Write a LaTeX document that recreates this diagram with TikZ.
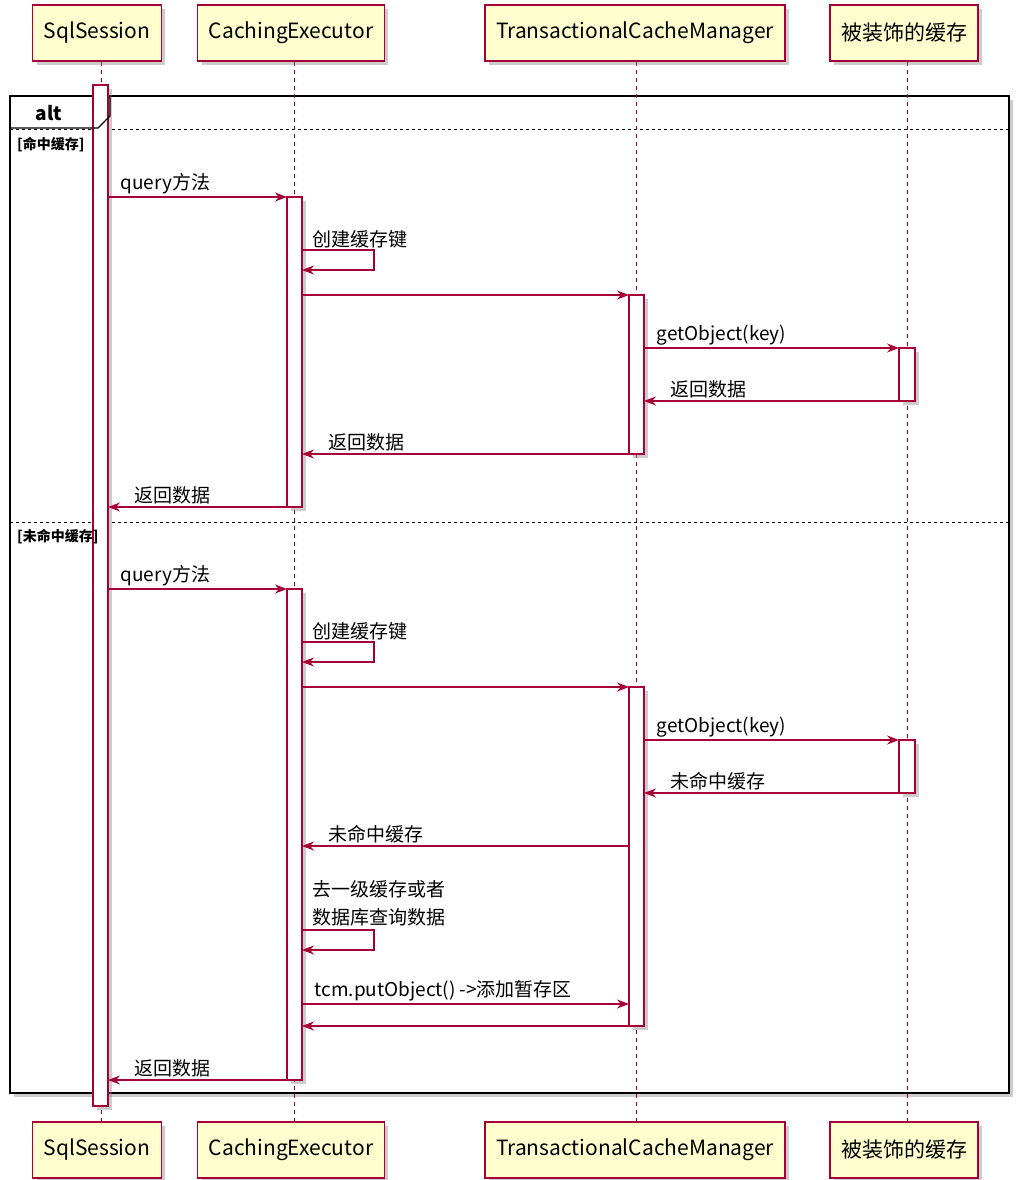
\documentclass[tikz,border=0pt]{standalone}
\usepackage{fontspec}
\setmainfont{Noto Sans CJK SC}
\usetikzlibrary{shadows,arrows.meta}
\definecolor{umlred}{HTML}{A80036}
\definecolor{umlfill}{HTML}{FEFECE}
\tikzset{
  part/.style={draw=umlred,fill=umlfill,line width=1.2pt,minimum height=56pt,inner xsep=11pt,
    font=\fontsize{21}{23}\selectfont,drop shadow={shadow xshift=4pt,shadow yshift=-4pt,opacity=0.4}},
  life/.style={umlred,line width=1pt,dash pattern=on 4pt off 4pt},
  act/.style={draw=umlred,fill=white,line width=1.2pt,drop shadow={shadow xshift=4pt,shadow yshift=-4pt,opacity=0.4}},
  msg/.style={umlred,line width=1.2pt,-{Stealth[length=12pt,width=9pt]}},
  lbl/.style={text=black,font=\fontsize{19}{28}\selectfont,anchor=south west,inner sep=2pt},
  guard/.style={font=\bfseries\fontsize{14}{15}\selectfont,anchor=west,inner sep=0pt},
}
\begin{document}
\begin{tikzpicture}[x=1pt,y=-1pt]
  \useasboundingbox (0,0) rectangle (1020,1180);
  % alt frame
  \draw[line width=2.6pt,fill=white,drop shadow={shadow xshift=4pt,shadow yshift=-4pt,opacity=0.4}] (10,96) rectangle (1009,1093);
  \draw[dash pattern=on 3pt off 3pt,line width=1pt] (10,130) -- (1009,130);
  \draw[dash pattern=on 3pt off 3pt,line width=1pt] (10,522) -- (1009,522);
  % lifelines
  \foreach \x in {101,294,636,907} \draw[life] (\x,62) -- (\x,1122);
  % participants
  \foreach \n/\x/\t in {sql/97/SqlSession,ce/291/CachingExecutor,tcm/635/TransactionalCacheManager,dec/904/被装饰的缓存}{
    \node[part] (\n top) at (\x,33) {\t};
    \node[part] (\n bot) at (\x,1150) {\t};
  }
  % activations
  \draw[act] (93,85) rectangle (108,1106);
  \draw[act] (287,197) rectangle (302,507);
  \draw[act] (287,589) rectangle (302,1080);
  \draw[act] (629,295) rectangle (644,454);
  \draw[act] (629,687) rectangle (644,1026);
  \draw[act] (899,348) rectangle (915,401);
  \draw[act] (899,740) rectangle (915,793);
  % tab and guards
  \draw[line width=1.2pt] (10,128) -- (98,128) -- (110,116) -- (110,96);
  \node[font=\bfseries\fontsize{19}{20}\selectfont] (alt) at (49,113) {alt};
  \node[guard] (g1) at (17,145) {[命中缓存]};
  \node[guard] (g2) at (17,537) {[未命中缓存]};
  % hit
  \coordinate (a1) at (108,197); \coordinate (b1) at (287,197);
  \draw[msg] (a1) -- (b1) node[lbl] at (a1) {\hspace{10pt}query方法};
  \draw[msg] (302,250) -- (374,250) -- (374,270) -- (302,270);
  \node[lbl] (s1) at (310,250) {创建缓存键};
  \coordinate (a2) at (302,295); \coordinate (b2) at (629,295);
  \draw[msg] (a2) -- (b2);
  \coordinate (a3) at (644,348); \coordinate (b3) at (899,348);
  \draw[msg] (a3) -- (b3) node[lbl] at (a3) {\hspace{10pt}getObject(key)};
  \coordinate (a4) at (899,401); \coordinate (b4) at (644,401);
  \draw[msg] (a4) -- (b4) node[lbl] at (b4) {\hspace{24pt}返回数据};
  \coordinate (a5) at (629,454); \coordinate (b5) at (302,454);
  \draw[msg] (a5) -- (b5) node[lbl] at (b5) {\hspace{24pt}返回数据};
  \coordinate (a6) at (287,507); \coordinate (b6) at (108,507);
  \draw[msg] (a6) -- (b6) node[lbl] at (b6) {\hspace{24pt}返回数据};
  % miss
  \coordinate (c1) at (108,589); \coordinate (d1) at (287,589);
  \draw[msg] (c1) -- (d1) node[lbl] at (c1) {\hspace{10pt}query方法};
  \draw[msg] (302,642) -- (374,642) -- (374,662) -- (302,662);
  \node[lbl] (s2) at (310,642) {创建缓存键};
  \coordinate (c2) at (302,687); \coordinate (d2) at (629,687);
  \draw[msg] (c2) -- (d2);
  \coordinate (c3) at (644,740); \coordinate (d3) at (899,740);
  \draw[msg] (c3) -- (d3) node[lbl] at (c3) {\hspace{10pt}getObject(key)};
  \coordinate (c4) at (899,793); \coordinate (d4) at (644,793);
  \draw[msg] (c4) -- (d4) node[lbl] at (d4) {\hspace{24pt}未命中缓存};
  \coordinate (c5) at (629,846); \coordinate (d5) at (302,846);
  \draw[msg] (c5) -- (d5) node[lbl] at (d5) {\hspace{24pt}未命中缓存};
  \draw[msg] (302,930) -- (374,930) -- (374,950) -- (302,950);
  \node[lbl,align=left] (s3) at (310,928) {去一级缓存或者\\数据库查询数据};
  \coordinate (c6) at (302,1004); \coordinate (d6) at (629,1004);
  \draw[msg] (c6) -- (d6) node[lbl] at (c6) {\hspace{10pt}tcm.putObject() ->添加暂存区};
  \coordinate (c7) at (629,1026); \coordinate (d7) at (302,1026);
  \draw[msg] (c7) -- (d7);
  \coordinate (c8) at (287,1080); \coordinate (d8) at (108,1080);
  \draw[msg] (c8) -- (d8) node[lbl] at (d8) {\hspace{24pt}返回数据};
\end{tikzpicture}
\end{document}
